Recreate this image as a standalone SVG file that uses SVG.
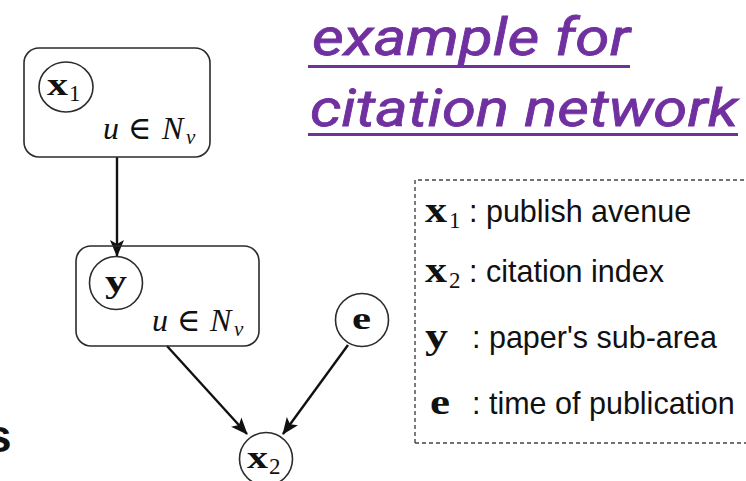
<svg xmlns="http://www.w3.org/2000/svg" width="746" height="481" viewBox="0 0 746 481">
  <style>
    .plate { fill: none; stroke: #2b2b2b; stroke-width: 1.6; }
    .var { fill: #ffffff; stroke: #2b2b2b; stroke-width: 1.6; }
    .mb { font-family: "Liberation Serif", "DejaVu Serif", serif; font-weight: bold; fill: #111; font-size: 31px; }
    .mbl { font-family: "Liberation Serif", "DejaVu Serif", serif; font-weight: bold; fill: #111; font-size: 36px; }
    .sub { font-family: "Liberation Serif", "DejaVu Serif", serif; fill: #111; font-size: 23px; }
    .mi { font-family: "Liberation Serif", "DejaVu Serif", serif; font-style: italic; fill: #111; font-size: 32px; }
    .edge { stroke: #111; stroke-width: 2.4; fill: none; marker-end: url(#head); }
    .title { font-family: Roboto, "Open Sans", sans-serif; font-style: italic; font-weight: 400; font-size: 52px; fill: #7030a0; stroke: #7030a0; stroke-width: 0.8; }
    .legend { font-family: "Liberation Sans", Arial, sans-serif; font-size: 30.5px; fill: #111; }
  </style>
  <defs>
    <marker id="head" viewBox="0 0 17 16" refX="16" refY="8" markerWidth="17" markerHeight="16" markerUnits="userSpaceOnUse" orient="auto">
      <path d="M0,1 L17,8 L0,15 L4,8 Z" fill="#111"/>
    </marker>
  </defs>

  <rect width="746" height="481" fill="#ffffff"/>

  <!-- heading -->
  <g id="heading">
    <text class="title" x="312" y="55" textLength="318" lengthAdjust="spacingAndGlyphs">example for</text>
    <rect x="308" y="65" width="322" height="3" fill="#7030a0"/>
    <text class="title" x="310" y="126" textLength="428" lengthAdjust="spacingAndGlyphs">citation network</text>
    <rect x="308" y="133" width="430" height="3" fill="#7030a0"/>
  </g>

  <!-- partially visible glyph at the left edge -->
  <text x="-14" y="452" font-family="Liberation Sans, Arial, sans-serif" font-weight="bold" font-size="46" fill="#111">s</text>

  <!-- connectors -->
  <g id="edges">
    <line class="edge" x1="117" y1="157" x2="117" y2="256"/>
    <line class="edge" x1="167" y1="346" x2="247" y2="434"/>
    <line class="edge" x1="348" y1="345" x2="283" y2="434"/>
  </g>

  <!-- plate with x1 -->
  <g id="plate-x1">
    <rect class="plate" x="24" y="48" width="186" height="109" rx="15"/>
    <ellipse class="var" cx="66" cy="87" rx="27" ry="25"/>
    <text class="mb" x="47" y="95" textLength="21" lengthAdjust="spacingAndGlyphs">x</text>
    <text class="sub" x="69" y="101">1</text>
    <text class="mi" y="139"><tspan x="103">u</tspan><tspan x="128">∈</tspan><tspan x="162">N</tspan><tspan x="186" dy="5" font-size="21">v</tspan></text>
  </g>

  <!-- plate with y -->
  <g id="plate-y">
    <rect class="plate" x="76" y="246" width="183" height="100" rx="15"/>
    <circle class="var" cx="116" cy="283" r="26.5"/>
    <text class="mb" x="105" y="292" textLength="22" lengthAdjust="spacingAndGlyphs">y</text>
    <text class="mi" y="331"><tspan x="152">u</tspan><tspan x="177">∈</tspan><tspan x="210">N</tspan><tspan x="234" dy="5" font-size="21">v</tspan></text>
  </g>

  <!-- node e -->
  <g id="node-e">
    <circle class="var" cx="362" cy="320" r="26.5"/>
    <text class="mb" x="352" y="329" textLength="19" lengthAdjust="spacingAndGlyphs">e</text>
  </g>

  <!-- node x2 -->
  <g id="node-x2">
    <circle class="var" cx="266" cy="459" r="26.5"/>
    <text class="mb" x="247" y="468" textLength="21" lengthAdjust="spacingAndGlyphs">x</text>
    <text class="sub" x="269" y="474">2</text>
  </g>

  <!-- legend -->
  <g id="legend">
    <path d="M415,443 V180 H746 M415,443 H746" fill="none" stroke="#444" stroke-width="1.4" stroke-dasharray="4,3"/>
    <text class="mbl" x="425" y="222" textLength="22" lengthAdjust="spacingAndGlyphs">x</text>
    <text class="sub" x="449" y="228">1</text>
    <text class="legend" x="469" y="222">: publish avenue</text>
    <text class="mbl" x="425" y="282" textLength="22" lengthAdjust="spacingAndGlyphs">x</text>
    <text class="sub" x="449" y="288">2</text>
    <text class="legend" x="469" y="282">: citation index</text>
    <text class="mbl" x="425" y="348" textLength="23" lengthAdjust="spacingAndGlyphs">y</text>
    <text class="legend" x="472" y="348">: paper's sub-area</text>
    <text class="mbl" x="430" y="414" textLength="20" lengthAdjust="spacingAndGlyphs">e</text>
    <text class="legend" x="472" y="414">: time of publication</text>
  </g>
</svg>
